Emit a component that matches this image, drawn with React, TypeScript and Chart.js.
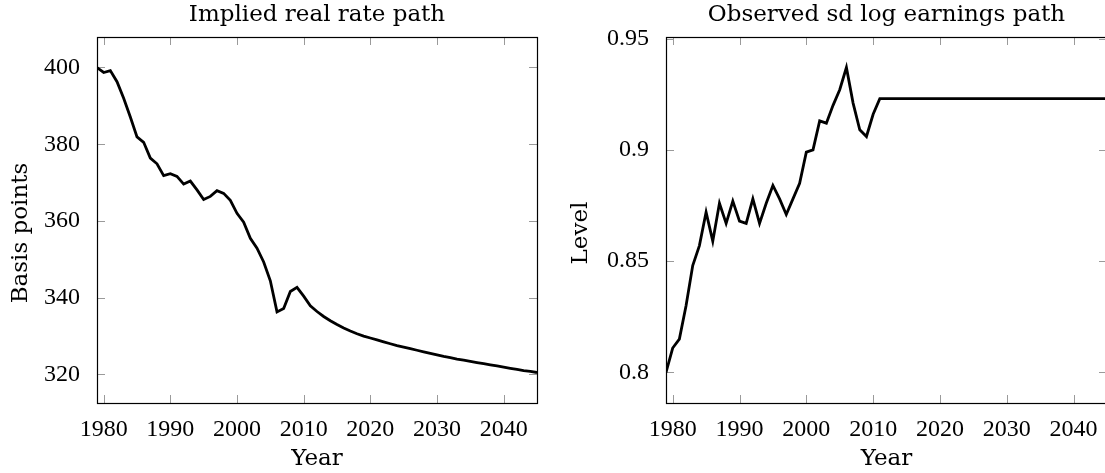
import React, { useEffect, useRef } from "react";
import { Chart, registerables } from "chart.js";

Chart.register(...registerables);

const years = [
  1979, 1980, 1981, 1982, 1983, 1984, 1985, 1986, 1987, 1988, 1989, 1990, 1991, 1992, 1993, 1994,
  1995, 1996, 1997, 1998, 1999, 2000, 2001, 2002, 2003, 2004, 2005, 2006, 2007, 2008, 2009, 2010,
  2011, 2012, 2013, 2014, 2015, 2016, 2017, 2018, 2019, 2020, 2021, 2022, 2023, 2024, 2025, 2026,
  2027, 2028, 2029, 2030, 2031, 2032, 2033, 2034, 2035, 2036, 2037, 2038, 2039, 2040, 2041, 2042,
  2043, 2044, 2045,
];

const realRate = [
  400.0, 398.7, 399.2, 396.3, 392.0, 387.1, 381.9, 380.5, 376.4, 374.9, 371.8, 372.3, 371.6, 369.6, 370.4, 368.1,
  365.6, 366.4, 367.9, 367.2, 365.4, 362.0, 359.7, 355.5, 352.9, 349.3, 344.4, 336.3, 337.2, 341.6, 342.7, 340.4,
  337.9, 336.4, 335.1, 334.0, 333.0, 332.1, 331.3, 330.6, 330.0, 329.5, 329.0, 328.5, 328.0, 327.5, 327.1, 326.7,
  326.3, 325.9, 325.5, 325.1, 324.7, 324.4, 324.0, 323.7, 323.4, 323.1, 322.8, 322.5, 322.2, 321.9, 321.6, 321.3,
  321.0, 320.8, 320.5,
];

const sdLogEarnings = [
  0.800, 0.811, 0.815, 0.830, 0.848, 0.857, 0.872, 0.859, 0.876, 0.867, 0.877, 0.868, 0.867, 0.878, 0.867, 0.876,
  0.884, 0.878, 0.871, 0.878, 0.885, 0.899, 0.900, 0.913, 0.912, 0.920, 0.927, 0.937, 0.921, 0.909, 0.906, 0.916,
  0.923, 0.923, 0.923, 0.923, 0.923, 0.923, 0.923, 0.923, 0.923, 0.923, 0.923, 0.923, 0.923, 0.923, 0.923, 0.923,
  0.923, 0.923, 0.923, 0.923, 0.923, 0.923, 0.923, 0.923, 0.923, 0.923, 0.923, 0.923, 0.923, 0.923, 0.923, 0.923,
  0.923, 0.923, 0.923,
];

const xTicks = [1980, 1990, 2000, 2010, 2020, 2030, 2040];
const rateTicks = [320, 340, 360, 380, 400];
const sdTicks = [0.8, 0.85, 0.9, 0.95];

const TITLE_FONT = { family: "DejaVu Serif", size: 23, weight: "normal" as const, lineHeight: 1.2 };
const TICK_FONT = { family: "Liberation Serif", size: 24, weight: "normal" as const, lineHeight: 1.2 };

const framePlugin = {
  id: "pgfFrame",
  beforeDatasetsDraw(chart: any) {
    const { ctx, chartArea } = chart;
    const { left, right, top, bottom } = chartArea;
    const len = 8;
    ctx.save();
    ctx.strokeStyle = "#9a9a9a";
    ctx.lineWidth = 1;
    ctx.beginPath();
    const xs = chart.scales.x;
    xs.ticks.forEach((t: any) => {
      const px = Math.round(xs.getPixelForValue(t.value)) + 0.5;
      ctx.moveTo(px, bottom);
      ctx.lineTo(px, bottom - len);
      ctx.moveTo(px, top);
      ctx.lineTo(px, top + len);
    });
    const ys = chart.scales.y;
    ys.ticks.forEach((t: any) => {
      const py = Math.round(ys.getPixelForValue(t.value)) + 0.5;
      ctx.moveTo(left, py);
      ctx.lineTo(left + len, py);
      ctx.moveTo(right, py);
      ctx.lineTo(right - len, py);
    });
    ctx.stroke();
    ctx.restore();
  },
  afterDatasetsDraw(chart: any) {
    const { ctx, chartArea } = chart;
    const { left, right, top, bottom } = chartArea;
    ctx.save();
    ctx.strokeStyle = "#000";
    ctx.lineWidth = 1.2;
    ctx.strokeRect(Math.round(left) + 0.5, Math.round(top) + 0.5, Math.round(right - left), Math.round(bottom - top));
    ctx.restore();
  },
  afterDraw(chart: any) {
    const text = chart.options.plugins.pgfFrame?.yLabel;
    if (!text) return;
    const { ctx, chartArea } = chart;
    ctx.save();
    ctx.fillStyle = "#000";
    ctx.font = `normal ${TITLE_FONT.size}px "${TITLE_FONT.family}"`;
    ctx.textAlign = "center";
    ctx.textBaseline = "middle";
    ctx.translate(21.5, (chartArea.top + chartArea.bottom) / 2 + 13);
    ctx.rotate(-Math.PI / 2);
    ctx.fillText(text, 0, 0);
    ctx.restore();
  },
};

type PanelProps = {
  title: string;
  yTitle: string;
  values: number[];
  yMin: number;
  yMax: number;
  yTickValues: number[];
  yAxisWidth: number;
  padRight: number;
  left: number;
};

function Panel(props: PanelProps) {
  const ref = useRef<HTMLCanvasElement | null>(null);
  useEffect(() => {
    if (!ref.current) return;
    const points = years.map((yr, i) => ({ x: yr, y: props.values[i] }));
    const chart = new Chart(ref.current, {
      type: "line",
      data: {
        datasets: [
          {
            data: points,
            borderColor: "#000",
            borderWidth: 2.8,
            pointRadius: 0,
            tension: 0,
            fill: false,
            borderJoinStyle: "miter",
          },
        ],
      },
      options: {
        animation: false,
        responsive: false,
        maintainAspectRatio: false,
        layout: { padding: { left: 0, right: props.padRight, top: 0, bottom: 0 } },
        plugins: {
          legend: { display: false },
          tooltip: { enabled: false },
          pgfFrame: { yLabel: props.yTitle },
          title: {
            display: true,
            text: props.title,
            fullSize: false,
            color: "#000",
            font: TITLE_FONT,
            padding: { top: 1.7, bottom: 7.7 },
          },
        },
        scales: {
          x: {
            type: "linear",
            min: 1979,
            max: 2045,
            grid: { display: false },
            border: { display: false },
            afterBuildTicks: (scale: any) => {
              scale.ticks = xTicks.map((v) => ({ value: v }));
            },
            afterFit: (scale: any) => {
              scale.height = 70;
            },
            ticks: {
              color: "#000",
              font: TICK_FONT,
              padding: 4,
              maxRotation: 0,
              autoSkip: false,
              callback: (v: any) => String(v),
            },
            title: {
              display: true,
              text: "Year",
              color: "#000",
              font: TITLE_FONT,
              padding: { top: 0, bottom: 0.5 },
            },
          },
          y: {
            type: "linear",
            min: props.yMin,
            max: props.yMax,
            grid: { display: false },
            border: { display: false },
            afterBuildTicks: (scale: any) => {
              scale.ticks = props.yTickValues.map((v) => ({ value: v }));
            },
            afterFit: (scale: any) => {
              scale.width = props.yAxisWidth;
            },
            ticks: {
              color: "#000",
              font: TICK_FONT,
              padding: 9,
              autoSkip: false,
              callback: (v: any) => String(v),
            },
            title: { display: false },
          },
        },
      },
      plugins: [framePlugin],
    } as any);
    return () => chart.destroy();
  }, []);
  return (
    <canvas
      ref={ref}
      width={560}
      height={473}
      style={{ position: "absolute", left: props.left, top: 0, width: 560, height: 473 }}
    />
  );
}

export default function App() {
  return (
    <div
      style={{
        position: "absolute",
        left: 0,
        top: 0,
        width: 1105,
        height: 473,
        overflow: "hidden",
        background: "#fff",
      }}
    >
      <Panel
        title="Implied real rate path"
        yTitle="Basis points"
        values={realRate}
        yMin={312.55}
        yMax={407.95}
        yTickValues={rateTicks}
        yAxisWidth={97}
        padRight={23}
        left={0}
      />
      <Panel
        title="Observed sd log earnings path"
        yTitle="Level"
        values={sdLogEarnings}
        yMin={0.7863}
        yMax={0.9507}
        yTickValues={sdTicks}
        yAxisWidth={106}
        padRight={13}
        left={560}
      />
    </div>
  );
}
